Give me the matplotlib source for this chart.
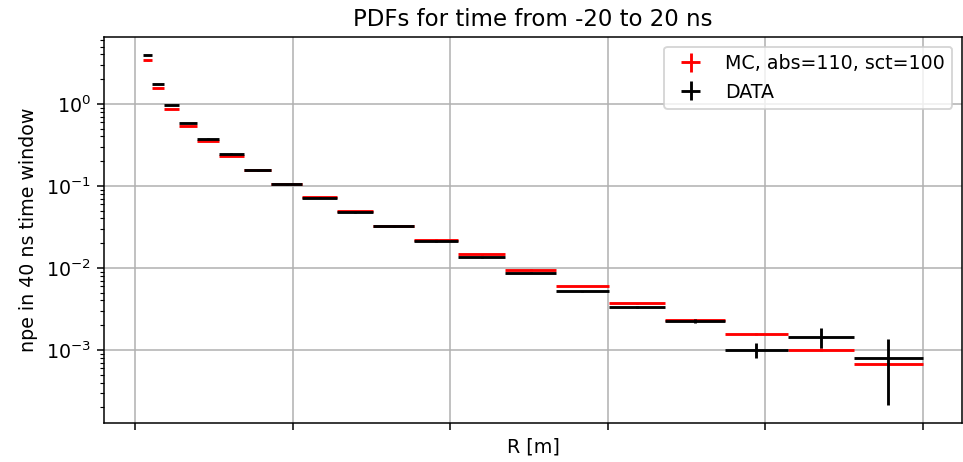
import matplotlib
matplotlib.use("Agg")
import matplotlib.pyplot as plt
import numpy as np

DPI = 137

# bin edges along R (ticks unlabelled in the original)
edges = np.array([0.05, 0.11, 0.186, 0.281, 0.395, 0.531, 0.690, 0.865, 1.062, 1.280,
                  1.512, 1.772, 2.051, 2.350, 2.669, 3.006, 3.365, 3.744, 4.141, 4.562, 5.0])

mc = [3.38, 1.56, 0.861, 0.538, 0.350, 0.231, 0.158, 0.105, 0.0725, 0.0487,
      0.0328, 0.0221, 0.0146, 0.00948, 0.00601, 0.00372, 0.00231, 0.00156, 0.00101, 0.000669]
mc_err = [0.01, 0.006, 0.004, 0.003, 0.002, 0.0015, 0.001, 0.0007, 0.0005, 0.0004,
          0.0003, 0.0002, 0.00015, 0.0001, 0.00007, 0.00005, 0.00004, 0.00004, 0.00003, 0.00002]

data = [3.97, 1.74, 0.964, 0.586, 0.377, 0.247, 0.154, 0.104, 0.0716, 0.0474,
        0.032, 0.0211, 0.0134, 0.00875, 0.00517, 0.00336, 0.00224, 0.0010, 0.00145, 0.00079]
data_err = [0.02, 0.01, 0.006, 0.004, 0.003, 0.002, 0.0013, 0.0009, 0.0006, 0.0004,
            0.0003, 0.0002, 0.00015, 0.0001, 0.00008, 0.0001, 0.00014, 0.0002, 0.0004, 0.00058]

centers = (edges[:-1] + edges[1:]) / 2
half = (edges[1:] - edges[:-1]) / 2

fig = plt.figure(figsize=(963 / DPI, 462 / DPI), dpi=DPI)
ax = fig.add_axes([104 / 963, 1 - 423 / 462, (962 - 104) / 963, (423 - 37) / 462])

ax.errorbar(centers, mc, xerr=half, yerr=mc_err, fmt='none', ecolor='red',
            elinewidth=1.5, label='MC, abs=110, sct=100')
ax.errorbar(centers, data, xerr=half, yerr=data_err, fmt='none', ecolor='black',
            elinewidth=1.5, label='DATA')

ax.set_yscale('log')
ax.set_xticks([0, 1, 2, 3, 4, 5])
ax.tick_params(labelbottom=False)
ax.grid(True)
ax.set_title('PDFs for time from -20 to 20 ns')
ax.set_xlabel('R [m]', labelpad=4)
ax.set_ylabel('npe in 40 ns time window')
ax.legend(loc='upper right')

fig.savefig('out.png', dpi=DPI)
